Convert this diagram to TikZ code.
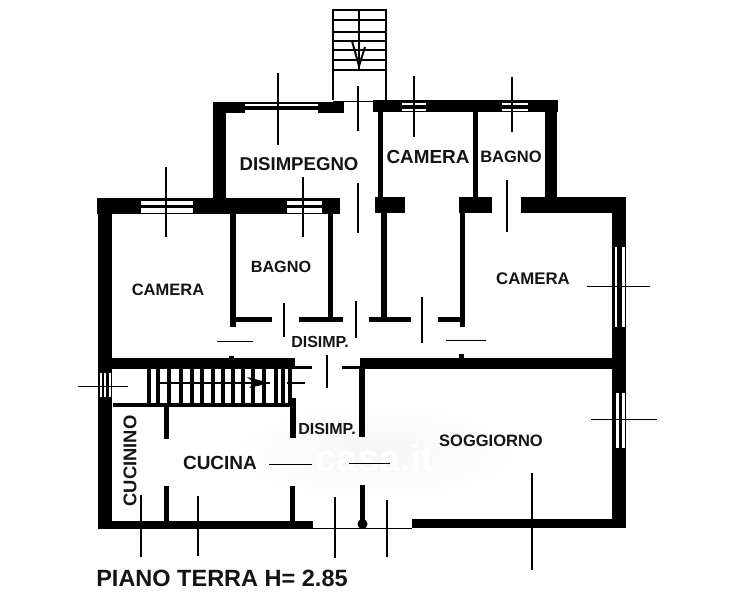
\documentclass[tikz,border=0pt]{standalone}
\usepackage{fontspec}
\setmainfont{Liberation Sans}
\tikzset{
  x=1pt,y=-1pt,
  dim/.style={draw=black,line width=1.5pt},
  thin dim/.style={draw=black,line width=1pt},
  room/.style={font=\bfseries\fontsize{#1}{#1}\selectfont,inner sep=0pt,text=black!92},
  room/.default=15
}
\newcommand{\W}[4]{\fill[black] (#1,#2) rectangle (#3,#4);}
\newcommand{\G}[4]{\fill[white] (#1,#2) rectangle (#3,#4);}
\begin{document}
\begin{tikzpicture}
\useasboundingbox (0,0) rectangle (742,600);
\fill[white] (0,0) rectangle (742,600);
% watermark, under the drawing
\shade[inner color=black!4,outer color=white] (375,452) ellipse (140 and 48);
\node[text=white,font=\bfseries\fontsize{38}{38}\selectfont,inner sep=0pt] (wm) at (375,458) {casa.it};
% outer walls, upper block
\W{213}{102}{226}{198} \W{213}{102}{344}{113}
\W{373}{100}{558}{112} \W{545}{100}{557}{198}
\W{378}{112}{383}{198} \W{473}{112}{478}{198}
% windows upper block
\G{245}{103.5}{318}{106} \G{245}{109.5}{318}{112.7}
\G{402}{102.7}{426}{104.7} \G{402}{108.7}{426}{111}
\G{502}{102.7}{528}{104.7} \G{502}{108.7}{528}{111}
% main top wall
\W{97}{198}{340}{214} \W{375}{197}{405}{213}
\W{459}{197}{492}{213} \W{521}{197}{626}{213}
\G{141}{201}{193}{205} \G{141}{208}{193}{213}
\G{287}{201}{322}{205} \G{287}{208}{322}{213}
% left, right walls
\W{98}{198}{112}{529}
\G{100}{373}{101.5}{397} \G{104}{373}{105.5}{397} \G{108.5}{373}{111}{397}
\W{612}{197}{626}{528}
\G{614.5}{247}{617}{327} \G{621.5}{247}{624.5}{327}
\G{616}{393}{618.5}{448} \G{622}{393}{625}{448}
% middle wall
\W{112}{358}{295}{369} \W{360}{358}{613}{369}
\W{229}{355.5}{234}{359} \W{459}{353.5}{464}{359}
% bottom wall
\W{98}{521}{313}{529} \W{412}{519}{626}{528}
% partitions
\W{230}{214}{236}{327} \W{236}{317}{272}{322}
\W{328}{214}{333}{320} \W{299}{317}{343}{322}
\W{381}{213}{387}{318} \W{369}{317}{411}{322}
\W{460}{213}{465}{327} \W{438}{317}{463}{322}
\W{359}{369}{365}{437} \W{294}{365.5}{312}{368.5} \W{342}{365.5}{363}{368.5}
\W{290}{398}{296}{438}
\W{164}{405}{169}{439} \W{164}{486}{169}{522}
\W{290}{486}{295}{522}
\W{360}{485}{365}{527}
\fill[black] (362.5,524) circle (5);
\draw[line width=1pt] (313,528) -- (412,528);
% stairs, upper
\draw[line width=1.3pt] (333,100) -- (333,10) -- (386,10) -- (386,100);
\foreach \yy in {20,32,41,50,60,70} \draw[line width=1.6pt] (333,\yy) -- (386,\yy);
\draw[line width=1.2pt] (359,10) -- (359,70);
\draw[line width=2pt] (352,41) -- (359,66) -- (365,47);
\draw[line width=0.7pt] (333,101) -- (373,101);
% stairs, lower
\W{113}{403}{293}{407}
\foreach \xx in {149,158,169,181,192,202,213,223,233,243,253,264,276,283,290}
  \draw[line width=3.2pt] (\xx,368) -- (\xx,404);
\draw[line width=1.4pt] (158,383) -- (270,383);
\fill[black] (247,377) -- (270,383) -- (249,388) -- (254,383) -- cycle;
\draw[line width=1.3pt] (287,383) -- (305,383);
% dimension lines
\draw[dim] (358,86) -- (358,131);
\draw[dim] (358,183) -- (358,233);
\draw[dim] (278,73) -- (278,145);
\draw[dim] (303,177) -- (303,237);
\draw[dim] (414,76) -- (414,137);
\draw[dim] (512,77) -- (512,132);
\draw[dim] (507,180) -- (507,232);
\draw[dim] (166,167) -- (166,237);
\draw[dim] (284,303) -- (284,337);
\draw[dim] (356,301) -- (356,338);
\draw[dim] (422,297) -- (422,343);
\draw[dim] (327,355) -- (327,388);
\draw[dim] (141,495) -- (141,557);
\draw[dim] (198,496) -- (198,556);
\draw[dim] (335,497) -- (335,558);
\draw[dim] (387,500) -- (387,557);
\draw[line width=2pt] (532,473) -- (532,570);
\draw[thin dim] (217,341) -- (253,341);
\draw[thin dim] (446,340) -- (486,340);
\draw[thin dim] (269,464) -- (312,464);
\draw[thin dim] (349,463) -- (390,463);
\draw[thin dim] (587,286) -- (650,286);
\draw[thin dim] (591,419) -- (657,419);
\draw[thin dim] (78,386) -- (128,386);
% labels
\node[room=18.6] (l1) at (299,164) {DISIMPEGNO};
\node[room=18.9] (l2) at (428,157) {CAMERA};
\node[room=16.5] (l3) at (511,157) {BAGNO};
\node[room=16.5] (l4) at (168,290) {CAMERA};
\node[room=16.2] (l5) at (281,267) {BAGNO};
\node[room=16.8] (l6) at (533,279) {CAMERA};
\node[room=16] (l7) at (320,342) {DISIMP.};
\node[room=16] (l8) at (327,429) {DISIMP.};
\node[room=19] (l9) at (220,463) {CUCINA};
\node[room=16.5] (l10) at (491,441) {SOGGIORNO};
\node[room=18.4,rotate=90] (l11) at (130,461) {CUCININO};
\node[room=23.5] (l12) at (222,578) {PIANO TERRA H= 2.85};
\end{tikzpicture}
\end{document}
